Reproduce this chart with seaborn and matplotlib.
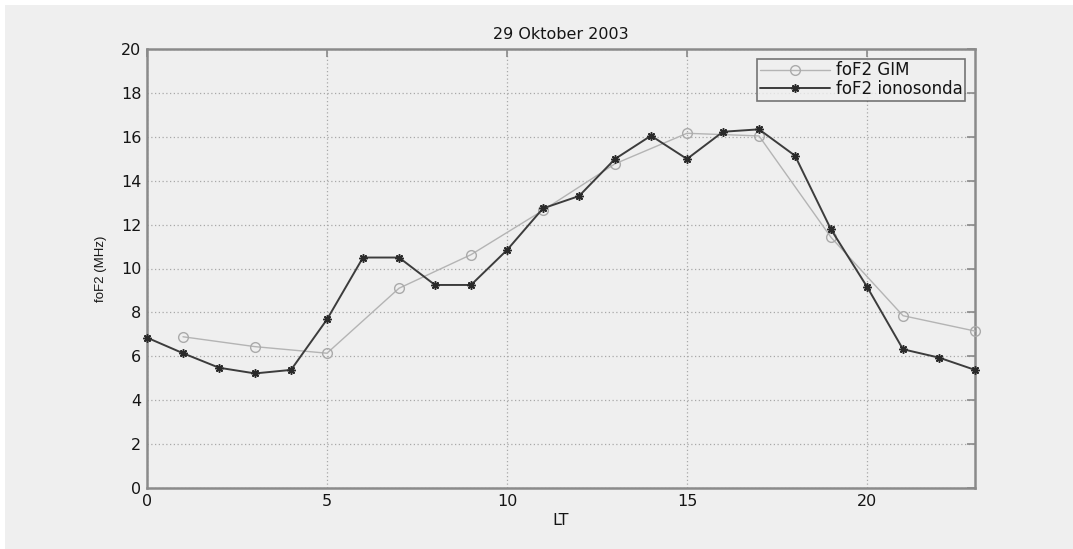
import matplotlib
matplotlib.use("Agg")
import matplotlib.pyplot as plt
import matplotlib.patches as mpatches
import seaborn as sns
import pandas as pd

# Hourly local time and foF2 values (MHz)
gim_hours = [1, 3, 5, 7, 9, 11, 13, 15, 17, 19, 21, 23]
gim_fof2 = [6.89, 6.44, 6.14, 9.10, 10.63, 12.65, 14.77, 16.16, 16.04, 11.42, 7.85, 7.15]

iono_hours = list(range(24))
iono_fof2 = [6.85, 6.14, 5.48, 5.22, 5.38, 7.68, 10.50, 10.50, 9.25, 9.25,
             10.84, 12.74, 13.30, 14.99, 16.05, 14.99, 16.23, 16.34, 15.14, 11.78,
             9.17, 6.32, 5.94, 5.38]

series_names = ["foF2 GIM", "foF2 ionosonda"]
title_text = "29 Oktober 2003"
x_label = "LT"
y_label = "foF2 (MHz)"
x_ticks = [0, 5, 10, 15, 20]
y_ticks = [0, 2, 4, 6, 8, 10, 12, 14, 16, 18, 20]

gim_df = pd.DataFrame({"LT": gim_hours, "foF2": gim_fof2})
iono_df = pd.DataFrame({"LT": iono_hours, "foF2": iono_fof2})

sns.set_theme(style="white")
plt.rcParams["font.family"] = ["DejaVu Sans"]

panel = "#efefef"
text_color = "#151515"
fig = plt.figure(figsize=(10.73, 5.49), dpi=100, facecolor="white")
# grey window panel with a thin white margin at top and left
fig.patches.append(mpatches.Rectangle((5 / 1073, 0), 1 - 5 / 1073, 1 - 5 / 549,
                                      transform=fig.transFigure, facecolor=panel,
                                      edgecolor="none", zorder=-10))

ax = fig.add_axes([147 / 1073, 1 - 488 / 549, (975 - 147) / 1073, (488 - 49) / 549])
ax.set_facecolor(panel)

# MATLAB-style asterisk: eight thin spokes
asterisk = (8, 2, 0)

sns.lineplot(data=gim_df, x="LT", y="foF2", ax=ax, color="#b4b4b4", linewidth=1.0,
             marker="o", markersize=7, markerfacecolor="none",
             markeredgecolor="#aaaaaa", markeredgewidth=1.0,
             label=series_names[0], clip_on=False, zorder=3)
sns.lineplot(data=iono_df, x="LT", y="foF2", ax=ax, color="#3c3c3c", linewidth=1.4,
             marker=asterisk, markersize=6, markerfacecolor="#2a2a2a",
             markeredgecolor="#2a2a2a", markeredgewidth=1.1,
             label=series_names[1], clip_on=False, zorder=4)

ax.set_xlim(0, 23)
ax.set_ylim(0, 20)
ax.set_xticks(x_ticks)
ax.set_yticks(y_ticks)

ax.grid(True, which="major", linestyle=(0, (1, 2)), color="#a8a8a8", linewidth=0.9)
ax.set_axisbelow(True)

for side in ["left", "right", "top", "bottom"]:
    ax.spines[side].set_visible(True)
    ax.spines[side].set_color("#8a8a8a")
    ax.spines[side].set_linewidth(1.8)

ax.tick_params(axis="both", which="major", direction="in", length=6, width=1.2,
               color="#8a8a8a", top=True, right=True, labelsize=11.5,
               labelcolor=text_color, pad=4)

ax.set_title(title_text, fontsize=11.5, color=text_color, pad=7)
ax.set_xlabel(x_label, fontsize=11.5, color=text_color, labelpad=3)
ax.set_ylabel(y_label, fontsize=9.5, color=text_color, labelpad=10,
              family=["Liberation Sans", "DejaVu Sans"])

leg = ax.legend(loc="upper right", bbox_to_anchor=(0.9925, 0.985),
                prop={"size": 12},
                frameon=True, fancybox=False, facecolor=panel, edgecolor="#555555",
                handlelength=4.2, handletextpad=0.4, borderpad=0.15, labelspacing=0.05,
                borderaxespad=0.2)
leg.get_frame().set_linewidth(1.2)
for txt in leg.get_texts():
    txt.set_color(text_color)

fig.savefig("out.png", dpi=100, facecolor=fig.get_facecolor())
